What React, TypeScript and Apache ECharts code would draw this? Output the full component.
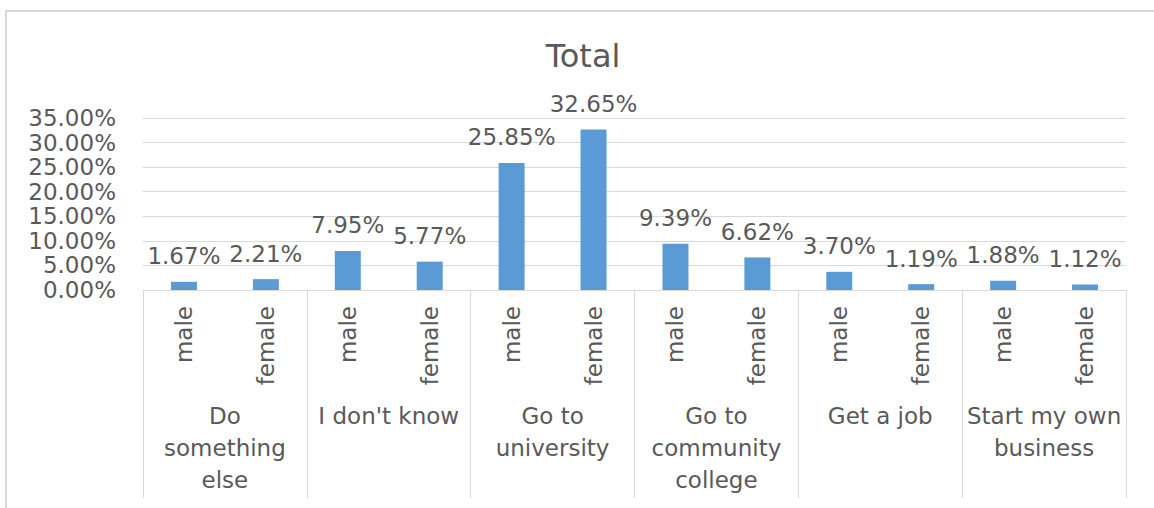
import React, { useEffect, useRef } from "react";
import * as echarts from "echarts";

const groups = [
  "Do\nsomething\nelse",
  "I don't know",
  "Go to\nuniversity",
  "Go to\ncommunity\ncollege",
  "Get a job",
  "Start my own\nbusiness",
];
const genders = ["male", "female"];
const maleValues = [1.67, 7.95, 25.85, 9.39, 3.7, 1.88];
const femaleValues = [2.21, 5.77, 32.65, 6.62, 1.19, 1.12];
const yTicks = { min: 0, max: 35, interval: 5 };
const title = "Total";

const FONT = "DejaVu Sans";
const TEXT = "#595959";
const LINE = "#d9d9d9";
const BAR = "#5B9BD5";

export default function App() {
  const ref = useRef<HTMLDivElement>(null);
  useEffect(() => {
    if (!ref.current) return;
    const chart = echarts.init(ref.current, undefined, { renderer: "svg" });
    const cats: string[] = [];
    const vals: number[] = [];
    groups.forEach((_, i) => {
      cats.push(genders[0]);
      vals.push(maleValues[i]);
      cats.push(genders[1]);
      vals.push(femaleValues[i]);
    });
    chart.setOption({
      animation: false,
      backgroundColor: "#ffffff",
      textStyle: { fontFamily: FONT },
      graphic: [
        {
          type: "rect",
          shape: { x: 6, y: 11, width: 1170, height: 520 },
          style: { fill: "none", stroke: LINE, lineWidth: 2 },
          silent: true,
        },
        {
          type: "text",
          x: 583,
          y: 56,
          style: {
            text: title,
            fontFamily: FONT,
            fontSize: 32,
            fill: TEXT,
            textAlign: "center",
            textVerticalAlign: "middle",
          },
        },
      ],
      grid: { left: 143, right: 1154 - 1126, top: 118, bottom: 508 - 290, containLabel: false },
      xAxis: [
        {
          type: "category",
          data: cats,
          position: "bottom",
          axisLine: { show: true, lineStyle: { color: LINE, width: 1 } },
          axisTick: { show: false },
          axisLabel: {
            interval: 0,
            rotate: 90,
            margin: 16,
            color: TEXT,
            fontFamily: FONT,
            fontSize: 23,
          },
        },
        {
          type: "category",
          data: groups,
          position: "bottom",
          axisLine: { show: false },
          axisTick: {
            show: true,
            interval: 0,
            length: 208,
            lineStyle: { color: LINE, width: 1 },
          },
          axisLabel: {
            interval: 0,
            margin: 110,
            color: TEXT,
            fontFamily: FONT,
            fontSize: 23,
            lineHeight: 32,
            align: "center",
          },
        },
      ],
      yAxis: {
        type: "value",
        min: yTicks.min,
        max: yTicks.max,
        interval: yTicks.interval,
        axisLine: { show: false },
        axisTick: { show: false },
        splitLine: { lineStyle: { color: LINE, width: 1 } },
        axisLabel: {
          margin: 27,
          color: TEXT,
          fontFamily: FONT,
          fontSize: 23,
          formatter: (v: number) => v.toFixed(2) + "%",
        },
      },
      series: [
        {
          type: "bar",
          xAxisIndex: 0,
          data: vals,
          barWidth: 26,
          itemStyle: { color: BAR },
          label: {
            show: true,
            position: "top",
            distance: 14,
            color: TEXT,
            fontFamily: FONT,
            fontSize: 23,
            formatter: (p: any) => (p.value as number).toFixed(2) + "%",
          },
        },
      ],
    });
    return () => chart.dispose();
  }, []);
  return (
    <div
      ref={ref}
      style={{ position: "absolute", left: 0, top: 0, width: 1154, height: 508 }}
    />
  );
}
